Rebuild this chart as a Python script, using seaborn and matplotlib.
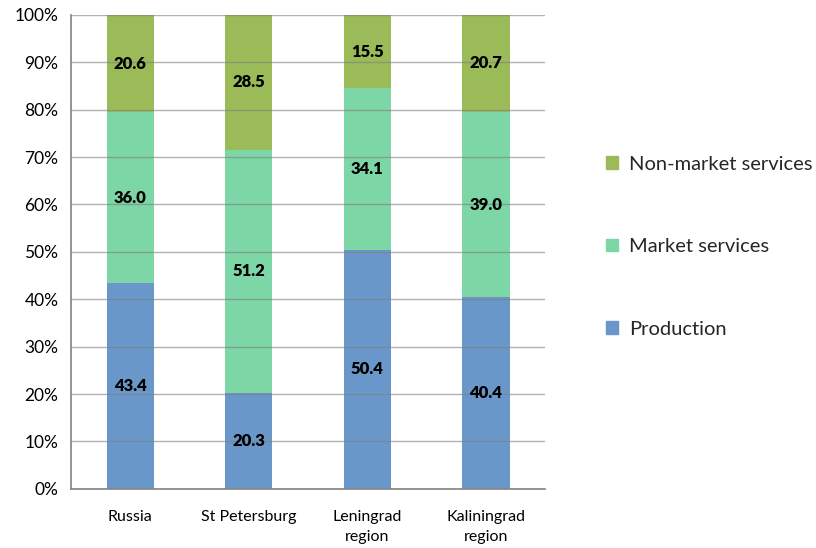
import matplotlib
matplotlib.use("Agg")
import matplotlib.pyplot as plt
import seaborn as sns
import pandas as pd
import numpy as np
from matplotlib.patches import Patch

categories = ["Russia", "St Petersburg", "Leningrad\nregion", "Kaliningrad\nregion"]
production = [43.4, 20.3, 50.4, 40.4]
market = [36.0, 51.2, 34.1, 39.0]
nonmarket = [20.6, 28.5, 15.5, 20.7]
yticks = [0, 10, 20, 30, 40, 50, 60, 70, 80, 90, 100]

c_prod = "#6A97C9"
c_mkt = "#7DD6A6"
c_non = "#9BBB59"

sns.set_theme(style="white")
plt.rcParams['font.family'] = ['Lato', 'DejaVu Sans']

df = pd.DataFrame({"cat": categories, "prod": production, "mkt": market, "non": nonmarket})
df["cum2"] = df["prod"] + df["mkt"]
df["cum3"] = df["cum2"] + df["non"]

fig = plt.figure(figsize=(8.16, 5.48), dpi=100)
ax = fig.add_axes([0.087, 0.108, 0.581, 0.865])

sns.barplot(data=df, x="cat", y="cum3", color=c_non, width=0.4, ax=ax, saturation=1, linewidth=0)
sns.barplot(data=df, x="cat", y="cum2", color=c_mkt, width=0.4, ax=ax, saturation=1, linewidth=0)
sns.barplot(data=df, x="cat", y="prod", color=c_prod, width=0.4, ax=ax, saturation=1, linewidth=0)

for i in range(len(categories)):
    p, m, n = production[i], market[i], nonmarket[i]
    for val, mid in [(p, p / 2), (m, p + m / 2), (n, p + m + n / 2)]:
        ax.text(i, mid, f"{val:.1f}", ha="center", va="center", fontsize=12,
                fontweight="heavy", color="black", zorder=3)

ax.set_ylim(0, 100)
ax.set_xlim(-0.5, 3.5)
ax.set_yticks(yticks)
ax.set_yticklabels([f"{t}%" for t in yticks], fontsize=12.5)
ax.yaxis.grid(True, color="#7f7f7f", linewidth=1, alpha=0.6, zorder=2)
ax.set_axisbelow(False)
for b in ax.patches:
    b.set_zorder(1)
    b.set_linewidth(0)
ax.set_xlabel("")
ax.set_ylabel("")
ax.tick_params(axis="x", which="major", length=0, labelsize=11.5, pad=15)
ax.set_xticks([-0.5, 0.5, 1.5, 2.5, 3.5], minor=True)
ax.tick_params(axis="x", which="minor", length=5, color="#888888", width=1, direction="out")
ax.tick_params(axis="y", length=5, color="#888888", width=1, direction="out", pad=4)
ax.tick_params(axis="both", colors="#888888")
for lab in ax.get_xticklabels() + ax.get_yticklabels():
    lab.set_color("black")
for lab in ax.get_xticklabels():
    lab.set_linespacing(1.55)
ax.spines["top"].set_visible(False)
ax.spines["right"].set_visible(False)
ax.spines["left"].set_color("#888888")
ax.spines["bottom"].set_color("#888888")

handles = [Patch(color=c_non, label="Non-market services"),
           Patch(color=c_mkt, label="Market services"),
           Patch(color=c_prod, label="Production")]
fig.legend(handles=handles, loc="center left", bbox_to_anchor=(0.72, 0.55), frameon=False,
           fontsize=14.5, labelspacing=3.25, handlelength=0.6, handleheight=0.6, handletextpad=0.55)

fig.savefig("out.png", dpi=100)
